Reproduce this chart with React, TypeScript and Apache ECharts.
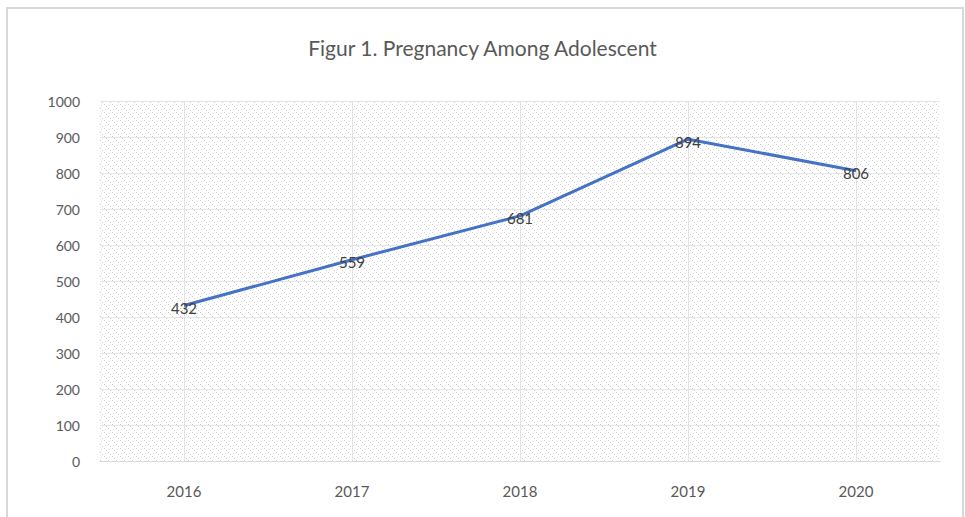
import React, { useEffect, useRef } from "react";
import * as echarts from "echarts";

const titleText = "Figur 1. Pregnancy Among Adolescent";
const years = ["2016", "2017", "2018", "2019", "2020"];
const pregnancies = [432, 559, 681, 894, 806];
const yMin = 0;
const yMax = 1000;
const yStep = 100;

function makePattern(): HTMLCanvasElement {
  const c = document.createElement("canvas");
  c.width = 8;
  c.height = 8;
  const ctx = c.getContext("2d")!;
  ctx.fillStyle = "#ffffff";
  ctx.fillRect(0, 0, 8, 8);
  ctx.fillStyle = "#cfcfcf";
  for (let i = 0; i < 8; i += 2) {
    ctx.fillRect(i, i, 1, 1);
  }
  ctx.fillStyle = "#e2e2e2";
  ctx.fillRect(5, 1, 1, 1);
  ctx.fillRect(1, 5, 1, 1);
  return c;
}

export default function App() {
  const ref = useRef<HTMLDivElement>(null);
  useEffect(() => {
    if (!ref.current) return;
    const chart = echarts.init(ref.current, null, { renderer: "svg" });
    const pattern = makePattern();
    chart.setOption({
      animation: false,
      backgroundColor: "#ffffff",
      title: {
        text: titleText,
        left: "center",
        top: 32,
        textStyle: {
          fontFamily: "Lato",
          fontSize: 21,
          fontWeight: "normal",
          color: "#595959",
        },
      },
      graphic: [
        {
          type: "rect",
          shape: { x: 7, y: 8, width: 956, height: 520 },
          style: { fill: "none", stroke: "#d9d9d9", lineWidth: 2 },
          silent: true,
        },
      ],
      grid: {
        left: 100,
        right: 25,
        top: 101,
        bottom: 56,
        show: true,
        borderWidth: 0,
        backgroundColor: { image: pattern, repeat: "repeat" },
      },
      xAxis: {
        type: "category",
        data: years,
        boundaryGap: true,
        axisLine: { show: true, lineStyle: { color: "#d9d9d9", width: 1 } },
        axisTick: {
          show: true,
          inside: true,
          alignWithLabel: true,
          length: 360,
          lineStyle: { color: "#e3e3e3", width: 1 },
        },
        axisLabel: {
          color: "#595959",
          fontFamily: "Lato",
          fontSize: 15,
          margin: 22,
        },
        splitLine: { show: false },
      },
      yAxis: {
        type: "value",
        min: yMin,
        max: yMax,
        interval: yStep,
        axisLine: { show: false },
        axisTick: { show: false },
        axisLabel: {
          color: "#595959",
          fontFamily: "Lato",
          fontSize: 14,
          margin: 20,
          formatter: (v: number) => String(v),
        },
        splitLine: { show: true, lineStyle: { color: "#e6e6e6", width: 1 } },
      },
      series: [
        {
          type: "line",
          data: pregnancies,
          symbol: "circle",
          symbolSize: 0.01,
          showSymbol: true,
          itemStyle: { color: "#4472C4" },
          lineStyle: { color: "#4472C4", width: 3 },
          label: {
            show: true,
            position: "top",
            distance: -10,
            color: "#404040",
            fontFamily: "Lato",
            fontSize: 15,
          },
          labelLayout: { hideOverlap: false },
        },
      ],
    });
    return () => chart.dispose();
  }, []);
  return (
    <div
      ref={ref}
      style={{ position: "fixed", left: 0, top: 0, width: 965, height: 517 }}
    />
  );
}
